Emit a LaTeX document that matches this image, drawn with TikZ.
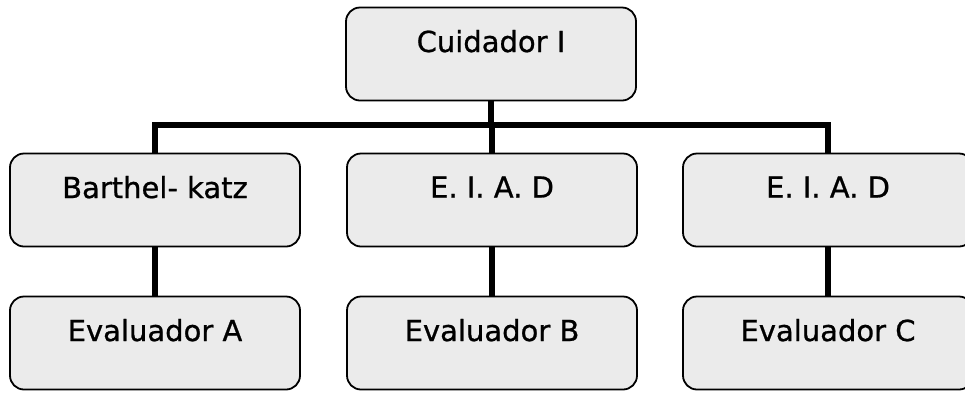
\documentclass[tikz,border=0pt]{standalone}
\usepackage{fontspec}
\setmainfont{DejaVu Sans}
\newfontfamily\boxfont{DejaVu Sans}[FakeBold=0.8]
\usetikzlibrary{backgrounds}
\newcommand{\up}[1]{\raisebox{26pt}{#1}}
\begin{document}
\begin{tikzpicture}[x=1pt,y=-1pt,
  box/.style={draw=black,line width=1.8pt,rounded corners=14pt,fill=black!8,
    minimum width=290pt,minimum height=93pt,inner sep=0pt,
    font=\boxfont\fontsize{29}{34}\selectfont},
  conn/.style={line width=6pt}]
\useasboundingbox (0,0) rectangle (965,392);
\node[box] (top) at (491,54) {\up{Cuidador I}};
\node[box] (b1) at (155,200) {\up{Barthel- katz}};
\node[box] (b2) at (492,200) {\up{E. I. A. D}};
\node[box] (b3) at (828,200) {\up{E. I. A. D}};
\node[box] (c1) at (155,343) {\up{Evaluador A}};
\node[box] (c2) at (492,343) {\up{Evaluador B}};
\node[box] (c3) at (828,343) {\up{Evaluador C}};
\coordinate (bar) at (491,125);
\begin{scope}[on background layer]
\draw[conn] (top.south) -- (bar);
\draw[conn] (b1.north) |- (bar);
\draw[conn] (b3.north) |- (bar);
\draw[conn] (b2.north) -- (b2.north |- bar);
\draw[conn] (b1) -- (c1);
\draw[conn] (b2) -- (c2);
\draw[conn] (b3) -- (c3);
\end{scope}
\end{tikzpicture}
\end{document}
